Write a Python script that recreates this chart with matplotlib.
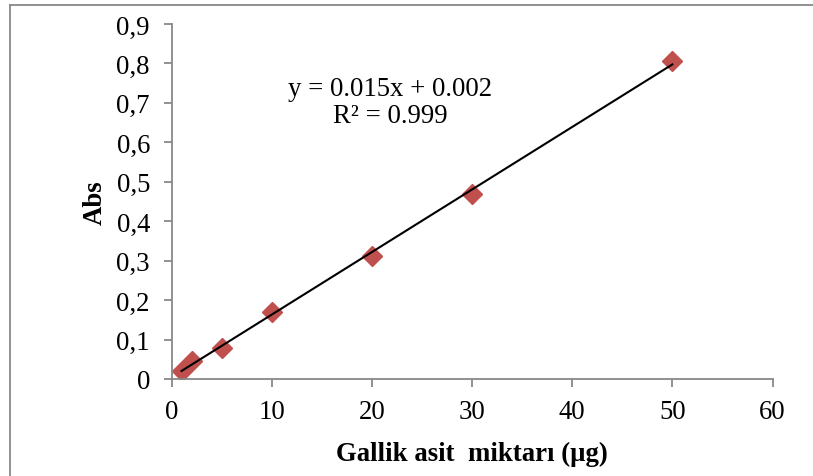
import numpy as np
import matplotlib
matplotlib.use("Agg")
import matplotlib.pyplot as plt
from matplotlib.lines import Line2D

# Gallic acid calibration data
gallik_ug = [1, 2, 5, 10, 20, 30, 50]
absorbans = [0.021, 0.045, 0.078, 0.170, 0.313, 0.470, 0.806]

x_ticks = [0, 10, 20, 30, 40, 50, 60]
y_ticks = [0, 0.1, 0.2, 0.3, 0.4, 0.5, 0.6, 0.7, 0.8, 0.9]
y_tick_labels = ["0", "0,1", "0,2", "0,3", "0,4", "0,5", "0,6", "0,7", "0,8", "0,9"]

equation_text = "y = 0.015x + 0.002"
r2_text = "R² = 0.999"

plt.rcParams["font.family"] = ["Liberation Serif", "DejaVu Serif"]
FS = 19.3

W, H = 813, 477
fig = plt.figure(figsize=(W / 100, H / 100), dpi=100)
ax = fig.add_axes([171.5 / W, 1 - 380 / H, (772.5 - 171.5) / W, (380 - 25) / H])

# linear trendline (least squares)
slope, intercept = np.polyfit(gallik_ug, absorbans, 1)
xf = np.array([min(gallik_ug), max(gallik_ug)])
ax.plot(xf, slope * xf + intercept, color="black", lw=1.5, zorder=3)

ax.plot(gallik_ug, absorbans, linestyle="none", marker="D", markersize=10,
        color="#C0504D", markeredgecolor="#C0504D", zorder=2)

ax.set_xlim(0, 60)
ax.set_ylim(0, 0.9)
ax.set_xticks(x_ticks)
ax.set_xticklabels([str(v) for v in x_ticks])
ax.set_yticks(y_ticks)
ax.set_yticklabels(y_tick_labels)

for s in ("top", "right"):
    ax.spines[s].set_visible(False)
for s in ("left", "bottom"):
    ax.spines[s].set_color("#888888")
    ax.spines[s].set_linewidth(1.3)
ax.tick_params(axis="both", direction="out", length=5.5, width=1.3, color="#888888",
               labelsize=FS)
ax.tick_params(axis="y", pad=10)
ax.tick_params(axis="x", pad=9)

ax.set_xlabel("Gallik asit  miktarı (µg)", fontsize=FS, fontweight="bold", labelpad=12)
ax.set_ylabel("Abs", fontsize=FS, fontweight="bold", labelpad=6)

ax.text(390 / W, 1 - 90 / H, equation_text, transform=fig.transFigure,
        ha="center", va="center", fontsize=FS)
ax.text(390 / W, 1 - 117 / H, r2_text, transform=fig.transFigure,
        ha="center", va="center", fontsize=FS)

# outer frame lines (top and left)
fig.add_artist(Line2D([10 / W, 1], [1 - 6 / H, 1 - 6 / H], transform=fig.transFigure,
                      color="#888888", lw=1.3))
fig.add_artist(Line2D([10 / W, 10 / W], [0, 1 - 6 / H], transform=fig.transFigure,
                      color="#888888", lw=1.3))

fig.savefig("out.png", dpi=100)
